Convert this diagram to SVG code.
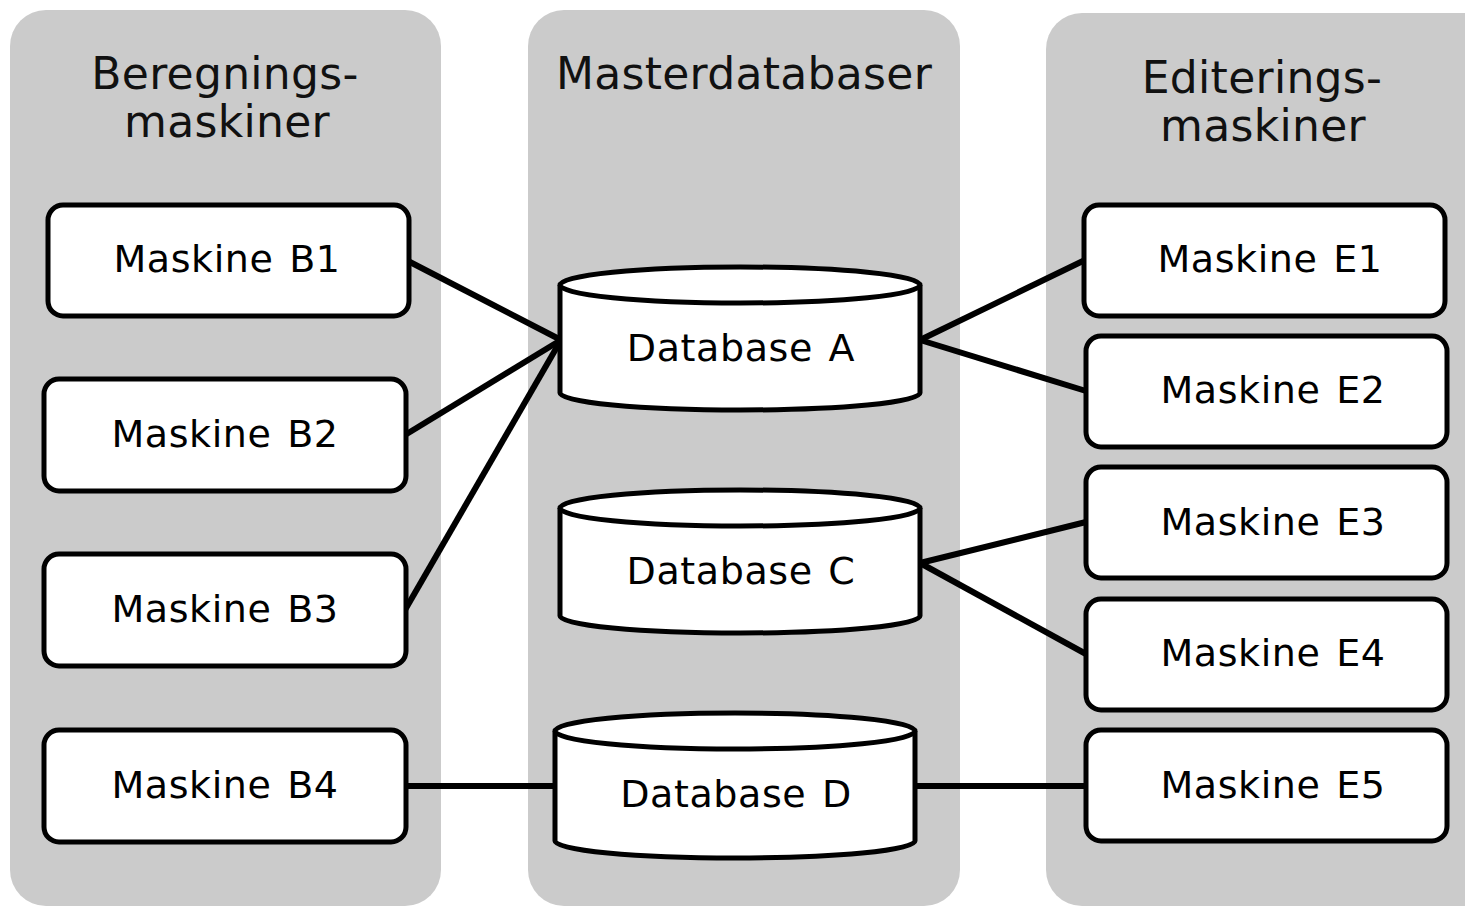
<svg xmlns="http://www.w3.org/2000/svg" width="1465" height="907" viewBox="0 0 1465 907">
<style>
.panel{fill:#cbcbcb;}
.box{fill:#fff;stroke:#000;stroke-width:5;}
.t{font-family:"DejaVu Sans",Verdana,sans-serif;font-size:38px;fill:#000;text-anchor:middle;letter-spacing:0.6px;word-spacing:3px;}
.h{font-family:"DejaVu Sans",Verdana,sans-serif;font-size:44px;fill:#111;text-anchor:middle;letter-spacing:0.3px;}
.c{stroke:#000;stroke-width:6;fill:none;}
</style>
<rect width="1465" height="907" fill="#fff"/>
<g id="panel-left"><rect class="panel" x="10" y="10" width="431" height="896" rx="36"/>
<text class="h" x="225" y="89">Beregnings-</text><text class="h" x="227" y="137">maskiner</text></g>
<g id="panel-mid"><rect class="panel" x="528" y="10" width="432" height="896" rx="36"/>
<text class="h" x="744" y="89">Masterdatabaser</text></g>
<g id="panel-right"><rect class="panel" x="1046" y="13" width="460" height="893" rx="36"/>
<text class="h" x="1262" y="93">Editerings-</text><text class="h" x="1263" y="141">maskiner</text></g>
<g id="connectors">
<line class="c" x1="408" y1="261" x2="561" y2="340"/>
<line class="c" x1="405" y1="435" x2="561" y2="340"/>
<line class="c" x1="405" y1="610" x2="561" y2="340"/>
<line class="c" x1="920" y1="340" x2="1085" y2="260"/>
<line class="c" x1="920" y1="340" x2="1086" y2="391"/>
<line class="c" x1="920" y1="563" x2="1086" y2="522"/>
<line class="c" x1="920" y1="563" x2="1086" y2="654"/>
<line class="c" x1="405" y1="786" x2="556" y2="786"/>
<line class="c" x1="915" y1="786" x2="1086" y2="786"/>
</g>
<g id="B1"><rect class="box" x="48" y="205" width="361" height="111" rx="15"/><text class="t" x="227" y="272">Maskine B1</text></g>
<g id="B2"><rect class="box" x="44" y="379" width="362" height="112" rx="15"/><text class="t" x="225" y="447">Maskine B2</text></g>
<g id="B3"><rect class="box" x="44" y="554" width="362" height="112" rx="15"/><text class="t" x="225" y="622">Maskine B3</text></g>
<g id="B4"><rect class="box" x="44" y="730" width="362" height="112" rx="15"/><text class="t" x="225" y="798">Maskine B4</text></g>
<g id="E1"><rect class="box" x="1084" y="205" width="361" height="111" rx="15"/><text class="t" x="1270" y="272">Maskine E1</text></g>
<g id="E2"><rect class="box" x="1086" y="336" width="361" height="111" rx="15"/><text class="t" x="1273" y="403">Maskine E2</text></g>
<g id="E3"><rect class="box" x="1086" y="467" width="361" height="111" rx="15"/><text class="t" x="1273" y="535">Maskine E3</text></g>
<g id="E4"><rect class="box" x="1086" y="599" width="361" height="111" rx="15"/><text class="t" x="1273" y="666">Maskine E4</text></g>
<g id="E5"><rect class="box" x="1086" y="730" width="361" height="111" rx="15"/><text class="t" x="1273" y="798">Maskine E5</text></g>
<g id="DBA"><path class="box" d="M560,285 V393 A180,17 0 0 0 920,393 V285"/><ellipse class="box" cx="740" cy="285" rx="180" ry="18"/><text class="t" x="741" y="361">Database A</text></g>
<g id="DBC"><path class="box" d="M560,508 V616 A180,17 0 0 0 920,616 V508"/><ellipse class="box" cx="740" cy="508" rx="180" ry="18"/><text class="t" x="741" y="584">Database C</text></g>
<g id="DBD"><path class="box" d="M555,731 V841 A180,17 0 0 0 915,841 V731"/><ellipse class="box" cx="735" cy="731" rx="180" ry="18"/><text class="t" x="736" y="807">Database D</text></g>
</svg>
